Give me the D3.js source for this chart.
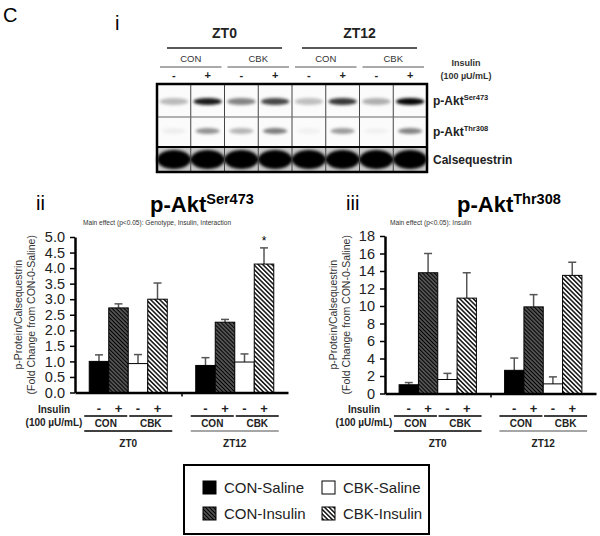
<!DOCTYPE html>
<html>
<head>
<meta charset="utf-8">
<script src="https://cdn.jsdelivr.net/npm/d3@7"></script>
<style>
  html, body { margin: 0; padding: 0; background: #fff; }
  svg { display: block; font-family: "Liberation Sans", Arial, sans-serif; }
</style>
</head>
<body>
<svg id="fig" width="600" height="536"></svg>
<script>
// ---- blot (panel i) ----
const blotTimes     = [ 'ZT0', 'ZT12' ];
const blotGenotypes = [ 'CON', 'CBK' ];
const insulinSigns  = [ '-', '+' ];
const blotRows      = [ 'Ser473', 'Thr308', 'Calsequestrin' ];
// relative band darkness per lane
const ser473Band = [ 0.26, 0.90, 0.48, 0.72, 0.24, 0.78, 0.30, 0.98 ];
const thr308Band = [ 0.05, 0.42, 0.28, 0.50, 0.04, 0.38, 0.04, 0.48 ];
const calseqBand = [ 1, 1, 1, 1, 1, 1, 1, 1 ];

// ---- bar charts (panels ii, iii) ----
const groups     = [ 'ZT0', 'ZT12' ];
const series     = [ 'CON-Saline', 'CON-Insulin', 'CBK-Saline', 'CBK-Insulin' ];
const seriesSign = [ '-', '+', '-', '+' ];
const ser473Mean = [ [ 1.00, 2.72, 0.93, 3.00 ], [ 0.87, 2.26, 0.98, 4.13 ] ];
const ser473Err  = [ [ 0.21, 0.13, 0.29, 0.52 ], [ 0.25, 0.09, 0.26, 0.52 ] ];
const ser473Star = [ [ '', '', '', '' ], [ '', '', '', '*' ] ];
const ser473Ticks = [ 0, 0.5, 1, 1.5, 2, 2.5, 3, 3.5, 4, 4.5, 5 ];
const thr308Mean = [ [ 1.0, 13.8, 1.6, 10.9 ], [ 2.65, 9.9, 1.1, 13.5 ] ];
const thr308Err  = [ [ 0.25, 2.2, 0.7, 2.9 ], [ 1.4, 1.4, 0.8, 1.5 ] ];
const thr308Star = [ [ '', '', '', '' ], [ '', '', '', '' ] ];
const thr308Ticks = [ 0, 2, 4, 6, 8, 10, 12, 14, 16, 18 ];

const svg  = d3.select( '#fig' );
const defs = svg.append( 'defs' );

// hatch patterns for the insulin bars
function hatch ( id, bg, gap, lw ) {
  const p = defs.append( 'pattern' )
    .attr( 'id', id )
    .attr( 'patternUnits', 'userSpaceOnUse' )
    .attr( 'width', gap ).attr( 'height', gap )
    .attr( 'patternTransform', 'rotate(-45)' );
  p.append( 'rect' ).attr( 'width', gap ).attr( 'height', gap ).attr( 'fill', bg );
  p.append( 'line' )
    .attr( 'x1', gap / 2 ).attr( 'x2', gap / 2 ).attr( 'y1', 0 ).attr( 'y2', gap )
    .attr( 'stroke', '#000' ).attr( 'stroke-width', lw );
}
hatch( 'conIns', '#666', 2.8, 1.3 );
hatch( 'cbkIns', '#fff', 3.2, 1.4 );
const fills = { 'CON-Saline': '#000', 'CON-Insulin': 'url(#conIns)', 'CBK-Saline': '#fff', 'CBK-Insulin': 'url(#cbkIns)' };

defs.append( 'filter' ).attr( 'id', 'blur' ).attr( 'x', '-30%' ).attr( 'y', '-80%' )
  .attr( 'width', '160%' ).attr( 'height', '260%' )
  .append( 'feGaussianBlur' ).attr( 'stdDeviation', 1.5 );

// ---------------- panel labels ----------------
svg.append( 'text' ).attr( 'x', 3 ).attr( 'y', 22 ).attr( 'font-size', 20 ).text( 'C' );
svg.append( 'text' ).attr( 'x', 115 ).attr( 'y', 30 ).attr( 'font-size', 20 ).text( 'i' );

// ---------------- blot ----------------
const blot = { x0: 157, x1: 427, rows: [ [ 84, 117 ], [ 117, 147 ], [ 147, 172 ] ] };
const laneIds = [];
blotTimes.forEach( t => blotGenotypes.forEach( g => insulinSigns.forEach( s => laneIds.push( `${t}|${g}|${s}` ) ) ) );
const lane = d3.scaleBand().domain( laneIds ).range( [ blot.x0, blot.x1 ] );

const bg = svg.append( 'g' );
bg.append( 'rect' )
  .attr( 'x', blot.x0 ).attr( 'y', blot.rows[0][0] )
  .attr( 'width', blot.x1 - blot.x0 ).attr( 'height', blot.rows[1][1] - blot.rows[0][0] )
  .attr( 'fill', '#fbfbfb' );
bg.append( 'rect' )
  .attr( 'x', blot.x0 ).attr( 'y', blot.rows[2][0] )
  .attr( 'width', blot.x1 - blot.x0 ).attr( 'height', blot.rows[2][1] - blot.rows[2][0] )
  .attr( 'fill', '#c8c8c8' );

const bandSets = [
  { vals: ser473Band, ry: 3.6, rx: 0.42, row: 0, dy: 1 },
  { vals: thr308Band, ry: 3.0, rx: 0.36, row: 1, dy: -1 },
  { vals: calseqBand, ry: 9.5, rx: 0.50, row: 2, dy: 0 }
];
bandSets.forEach( b => {
  const cy = ( blot.rows[b.row][0] + blot.rows[b.row][1] ) / 2 + b.dy;
  bg.append( 'g' ).attr( 'filter', 'url(#blur)' )
    .selectAll( 'ellipse' ).data( b.vals ).enter().append( 'ellipse' )
      .attr( 'cx', ( d, i ) => lane( laneIds[i] ) + lane.bandwidth() / 2 )
      .attr( 'cy', cy )
      .attr( 'rx', lane.bandwidth() * b.rx )
      .attr( 'ry', b.ry )
      .attr( 'fill', '#000' )
      .attr( 'fill-opacity', d => d );
} );

// lane and row separators
bg.selectAll( 'line.lane' ).data( laneIds.slice( 1 ) ).enter().append( 'line' )
  .attr( 'x1', d => lane( d ) ).attr( 'x2', d => lane( d ) )
  .attr( 'y1', blot.rows[0][0] ).attr( 'y2', blot.rows[2][1] )
  .attr( 'stroke', '#444' ).attr( 'stroke-width', 1 );
bg.append( 'line' ).attr( 'x1', blot.x0 ).attr( 'x2', blot.x1 )
  .attr( 'y1', blot.rows[1][0] ).attr( 'y2', blot.rows[1][0] )
  .attr( 'stroke', '#666' ).attr( 'stroke-width', 1 );
bg.append( 'line' ).attr( 'x1', blot.x0 ).attr( 'x2', blot.x1 )
  .attr( 'y1', blot.rows[2][0] ).attr( 'y2', blot.rows[2][0] )
  .attr( 'stroke', '#000' ).attr( 'stroke-width', 2 );
bg.append( 'rect' )
  .attr( 'x', blot.x0 ).attr( 'y', blot.rows[0][0] )
  .attr( 'width', blot.x1 - blot.x0 ).attr( 'height', blot.rows[2][1] - blot.rows[0][0] )
  .attr( 'fill', 'none' ).attr( 'stroke', '#000' ).attr( 'stroke-width', 2.5 );

// row labels
const rowLabel = [ [ 'p-Akt', 'Ser473' ], [ 'p-Akt', 'Thr308' ], [ 'Calsequestrin', '' ] ];
rowLabel.forEach( ( r, i ) => {
  const cy = ( blot.rows[i][0] + blot.rows[i][1] ) / 2;
  const t = bg.append( 'text' ).attr( 'x', blot.x1 + 6 ).attr( 'y', cy + 4 )
    .attr( 'font-size', 12 ).attr( 'font-weight', 'bold' ).attr( 'fill', '#222' ).text( r[0] );
  if ( r[1] ) t.append( 'tspan' ).attr( 'dy', -5 ).attr( 'font-size', 7.5 ).text( r[1] );
} );

// header over the blot
const head = svg.append( 'g' ).attr( 'fill', '#222' ).attr( 'font-weight', 'bold' ).attr( 'text-anchor', 'middle' );
blotTimes.forEach( t => {
  const a = lane( `${t}|CON|-` ), b = lane( `${t}|CBK|+` ) + lane.bandwidth();
  head.append( 'text' ).attr( 'x', ( a + b ) / 2 ).attr( 'y', 38 ).attr( 'font-size', 14 ).text( t );
  head.append( 'line' ).attr( 'x1', a + 10 ).attr( 'x2', b - 10 ).attr( 'y1', 48 ).attr( 'y2', 48 )
    .attr( 'stroke', '#222' ).attr( 'stroke-width', 1.5 );
  blotGenotypes.forEach( g => {
    const c = lane( `${t}|${g}|-` ), d = lane( `${t}|${g}|+` ) + lane.bandwidth();
    head.append( 'text' ).attr( 'x', ( c + d ) / 2 ).attr( 'y', 62 ).attr( 'font-size', 9.5 )
      .attr( 'font-weight', 'normal' ).attr( 'fill', '#333' ).text( g );
    head.append( 'line' ).attr( 'x1', c + 3 ).attr( 'x2', d - 3 ).attr( 'y1', 67 ).attr( 'y2', 67 )
      .attr( 'stroke', '#555' ).attr( 'stroke-width', 1 );
    insulinSigns.forEach( s => {
      head.append( 'text' ).attr( 'x', lane( `${t}|${g}|${s}` ) + lane.bandwidth() / 2 ).attr( 'y', 79 )
        .attr( 'font-size', 11 ).text( s );
    } );
  } );
} );
head.append( 'text' ).attr( 'x', 466 ).attr( 'y', 66 ).attr( 'font-size', 9 ).attr( 'fill', '#333' ).text( 'Insulin' );
head.append( 'text' ).attr( 'x', 466 ).attr( 'y', 79 ).attr( 'font-size', 9 ).attr( 'fill', '#333' ).text( '(100 µU/mL)' );

// ---------------- bar charts ----------------
function barChart ( o ) {
  const g = svg.append( 'g' );
  const y = d3.scaleLinear().domain( [ 0, o.max ] ).range( [ o.yBot, o.yTop ] );
  const xg = d3.scaleBand().domain( groups ).range( [ o.x0, o.x1 ] );
  const xs = d3.scaleBand().domain( series ).range( [ 0, xg.bandwidth() ] ).paddingOuter( 0.73 );

  // titles
  g.append( 'text' ).attr( 'x', o.numX ).attr( 'y', 210 ).attr( 'font-size', 20 ).text( o.num );
  const t = g.append( 'text' ).attr( 'x', o.titleX ).attr( 'y', 212 ).attr( 'font-size', 22 )
    .attr( 'font-weight', 'bold' ).text( 'p-Akt' );
  t.append( 'tspan' ).attr( 'dy', -8 ).attr( 'font-size', 14.5 ).text( o.sup );
  g.append( 'text' ).attr( 'x', o.noteX ).attr( 'y', 225 ).attr( 'font-size', 6.6 ).attr( 'fill', '#333' )
    .text( o.note );

  // y title
  const yt = g.append( 'text' ).attr( 'transform', `translate(${o.ytX},${( o.yTop + o.yBot ) / 2}) rotate(-90)` )
    .attr( 'text-anchor', 'middle' ).attr( 'font-size', 10.5 ).attr( 'fill', '#333' );
  yt.append( 'tspan' ).attr( 'x', 0 ).attr( 'dy', 0 ).text( 'p-Protein/Calsequestrin' );
  yt.append( 'tspan' ).attr( 'x', 0 ).attr( 'dy', 12.5 ).text( '(Fold Change from CON-0-Saline)' );

  // bars
  groups.forEach( ( grp, gi ) => {
    const gg = g.append( 'g' ).attr( 'transform', `translate(${xg( grp )},0)` );
    const rows = series.map( ( s, si ) => ( { s, v: o.mean[gi][si], e: o.err[gi][si], star: o.star[gi][si] } ) );
    gg.selectAll( 'line.err' ).data( rows ).enter().append( 'line' )
      .attr( 'x1', d => xs( d.s ) + xs.bandwidth() / 2 ).attr( 'x2', d => xs( d.s ) + xs.bandwidth() / 2 )
      .attr( 'y1', d => y( d.v ) ).attr( 'y2', d => y( d.v + d.e ) )
      .attr( 'stroke', '#555' ).attr( 'stroke-width', 1.5 );
    gg.selectAll( 'line.cap' ).data( rows ).enter().append( 'line' )
      .attr( 'x1', d => xs( d.s ) + xs.bandwidth() / 2 - 4 ).attr( 'x2', d => xs( d.s ) + xs.bandwidth() / 2 + 4 )
      .attr( 'y1', d => y( d.v + d.e ) ).attr( 'y2', d => y( d.v + d.e ) )
      .attr( 'stroke', '#555' ).attr( 'stroke-width', 1.5 );
    gg.selectAll( 'rect' ).data( rows ).enter().append( 'rect' )
      .attr( 'x', d => xs( d.s ) ).attr( 'width', xs.bandwidth() )
      .attr( 'y', d => y( d.v ) ).attr( 'height', d => y( 0 ) - y( d.v ) )
      .attr( 'fill', d => fills[d.s] ).attr( 'stroke', '#000' ).attr( 'stroke-width', 1 );
    gg.selectAll( 'text.star' ).data( rows.filter( d => d.star ) ).enter().append( 'text' )
      .attr( 'x', d => xs( d.s ) + xs.bandwidth() / 2 ).attr( 'y', d => y( d.v + d.e ) - 3 )
      .attr( 'text-anchor', 'middle' ).attr( 'font-size', 12 ).text( d => d.star );

    // category labels under the axis
    const lab = gg.append( 'g' ).attr( 'font-weight', 'bold' ).attr( 'text-anchor', 'middle' ).attr( 'fill', '#222' );
    lab.selectAll( 'text.sign' ).data( series ).enter().append( 'text' )
      .attr( 'x', s => xs( s ) + xs.bandwidth() / 2 ).attr( 'y', 413 ).attr( 'font-size', 13 )
      .text( ( s, i ) => seriesSign[i] );
    const pairs = [ [ 'CON', series[0], series[1], -3 ], [ 'CBK', series[2], series[3], 3 ] ];
    const ends = [];
    pairs.forEach( p => {
      const c = ( xs( p[1] ) + xs( p[2] ) + xs.bandwidth() ) / 2 + p[3];
      ends.push( c - 21.5, c + 21.5 );
      lab.append( 'line' ).attr( 'x1', c - 21.5 ).attr( 'x2', c + 21.5 ).attr( 'y1', 416 ).attr( 'y2', 416 )
        .attr( 'stroke', '#000' ).attr( 'stroke-width', 1.5 );
      lab.append( 'text' ).attr( 'x', c ).attr( 'y', 427 ).attr( 'font-size', 10 ).text( p[0] );
    } );
    lab.append( 'line' ).attr( 'x1', ends[0] ).attr( 'x2', ends[3] ).attr( 'y1', 431 ).attr( 'y2', 431 )
      .attr( 'stroke', gi === 0 ? '#000' : '#888' ).attr( 'stroke-width', 1.5 );
    lab.append( 'text' ).attr( 'x', ( ends[0] + ends[3] ) / 2 ).attr( 'y', 447 ).attr( 'font-size', 10 ).text( grp );
  } );

  // axes
  const ya = g.append( 'g' ).attr( 'transform', `translate(${o.x0},0)` )
    .call( d3.axisLeft( y ).tickValues( o.ticks ).tickSize( 5 ).tickSizeOuter( 0 ).tickFormat( d3.format( o.fmt ) ) );
  ya.select( '.domain' ).attr( 'stroke-width', 2.5 );
  ya.selectAll( '.tick line' ).attr( 'stroke-width', 1.5 );
  ya.selectAll( '.tick text' ).attr( 'font-size', 14.5 ).attr( 'font-family', null ).attr( 'fill', '#222' ).attr( 'dx', -2 );
  const boundary = d3.scaleLinear().domain( [ 0, groups.length ] ).range( [ o.x0, o.x1 ] );
  const xa = g.append( 'g' ).attr( 'transform', `translate(0,${o.yBot})` )
    .call( d3.axisBottom( boundary ).tickValues( [ 1 ] ).tickSize( 4 ).tickSizeOuter( 0 ).tickFormat( '' ) );
  xa.select( '.domain' ).attr( 'stroke-width', 2.5 );
  xa.selectAll( '.tick line' ).attr( 'stroke-width', 1.5 );

  // insulin label
  const il = g.append( 'g' ).attr( 'font-weight', 'bold' ).attr( 'text-anchor', 'middle' ).attr( 'font-size', 10 ).attr( 'fill', '#222' );
  il.append( 'text' ).attr( 'x', o.x0 - 21 ).attr( 'y', 413 ).text( 'Insulin' );
  il.append( 'text' ).attr( 'x', o.x0 - 21 ).attr( 'y', 426 ).text( '(100 µU/mL)' );
}

barChart( {
  num: 'ii', numX: 36, titleX: 150, sup: 'Ser473', noteX: 83,
  note: 'Main effect (p<0.05): Genotype, Insulin, Interaction',
  x0: 75, x1: 288, yTop: 237, yBot: 392.5, ytX: 22, max: 5, ticks: ser473Ticks, fmt: '.1f',
  mean: ser473Mean, err: ser473Err, star: ser473Star
} );
barChart( {
  num: 'iii', numX: 346, titleX: 457, sup: 'Thr308', noteX: 390,
  note: 'Main effect (p<0.05): Insulin',
  x0: 385, x1: 596, yTop: 236, yBot: 393.5, ytX: 337, max: 18, ticks: thr308Ticks, fmt: 'd',
  mean: thr308Mean, err: thr308Err, star: thr308Star
} );

// ---------------- legend ----------------
const leg = svg.append( 'g' );
leg.append( 'rect' ).attr( 'x', 184 ).attr( 'y', 465 ).attr( 'width', 245 ).attr( 'height', 69 )
  .attr( 'fill', '#fff' ).attr( 'stroke', '#000' ).attr( 'stroke-width', 2 );
const legPos = d3.scaleOrdinal().domain( series ).range( [ [ 203, 481 ], [ 203, 507 ], [ 322, 481 ], [ 322, 507 ] ] );
const item = leg.selectAll( 'g.item' ).data( series ).enter().append( 'g' )
  .attr( 'transform', d => `translate(${legPos( d )[0]},${legPos( d )[1]})` );
item.append( 'rect' ).attr( 'width', 13 ).attr( 'height', 13 )
  .attr( 'fill', d => fills[d] ).attr( 'stroke', '#000' ).attr( 'stroke-width', 1 );
item.append( 'text' ).attr( 'x', 21 ).attr( 'y', 12 ).attr( 'font-size', 15 ).attr( 'fill', '#222' ).text( d => d );
</script>
</body>
</html>
